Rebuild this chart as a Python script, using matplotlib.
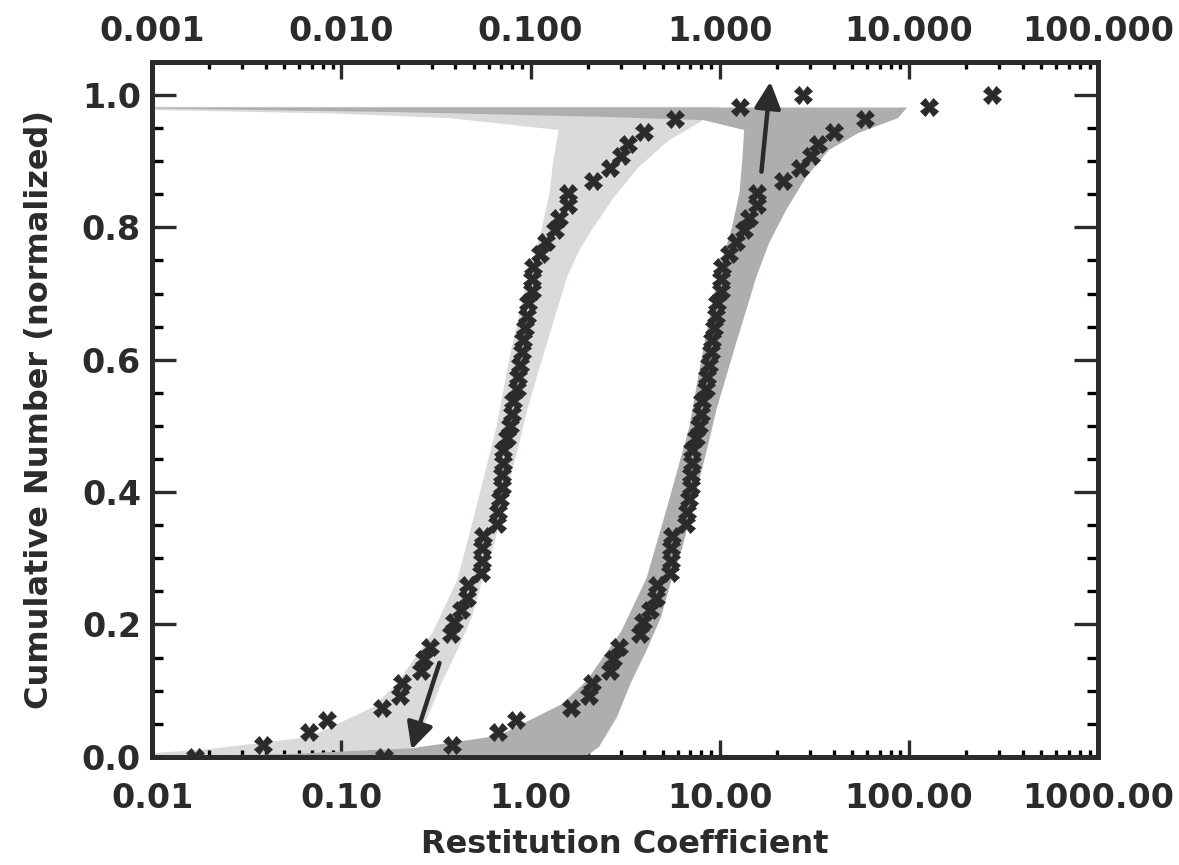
import numpy as np
import matplotlib.pyplot as plt
from matplotlib.ticker import LogLocator, FuncFormatter, NullFormatter, MultipleLocator

INK = "#2b2b2b"
LIGHT = "#d9dbdb"
DARK = "#adafae"

# measured restitution coefficients, sorted (two samples)
coef_a = [0.0169, 0.0386, 0.0674, 0.0839, 0.1636, 0.2036, 0.21, 0.2628, 0.2725, 0.293,
          0.378, 0.3925, 0.427, 0.4595, 0.465, 0.5446, 0.551, 0.553, 0.558, 0.6615,
          0.6696, 0.686, 0.703, 0.706, 0.7115, 0.714, 0.747, 0.775, 0.794, 0.8035,
          0.8436, 0.854, 0.875, 0.896, 0.907, 0.930, 0.953, 0.964, 1.012, 1.02,
          1.025, 1.116, 1.214, 1.339, 1.422, 1.568, 1.58, 2.15, 2.644, 3.022,
          3.29, 3.996, 5.824, 12.83, 27.57]
coef_b = [0.169, 0.386, 0.674, 0.839, 1.636, 2.036, 2.1, 2.628, 2.725, 2.93,
          3.78, 3.925, 4.27, 4.595, 4.65, 5.446, 5.51, 5.53, 5.58, 6.615,
          6.696, 6.86, 7.03, 7.06, 7.115, 7.14, 7.47, 7.75, 7.94, 8.035,
          8.436, 8.54, 8.75, 8.96, 9.07, 9.30, 9.53, 9.64, 10.12, 10.2,
          10.25, 11.16, 12.14, 13.39, 14.22, 15.68, 15.8, 21.5, 26.44, 30.22,
          32.9, 39.96, 58.24, 128.3, 275.7]

# envelope of model distributions (light: sample a, dark: sample b)
light_x = [0.005, 0.019, 0.068, 0.147, 0.198, 0.302, 0.41, 0.52, 0.66, 0.77, 0.92, 1.03,
           1.15, 1.26, 1.32, 1.41,
           0.37, 0.09, 0.005, 0.005, 10.0,
           8.19, 5.3, 3.7, 2.75, 2.15, 1.8, 1.56, 1.38, 1.22, 1.08, 0.96, 0.88, 0.63, 0.551,
           0.489, 0.412, 0.339, 0.286, 0.235, 0.216, 0.005]
light_y = [0.0, 0.011, 0.03, 0.075, 0.112, 0.187, 0.267, 0.38, 0.498, 0.60, 0.70, 0.751,
           0.80, 0.852, 0.902, 0.947,
           0.965, 0.972, 0.979, 0.982, 0.982,
           0.962, 0.93, 0.89, 0.845, 0.80, 0.764, 0.725, 0.675, 0.625, 0.574, 0.524, 0.479, 0.313, 0.263,
           0.211, 0.162, 0.112, 0.06, 0.015, 0.0, 0.0]

dark_x = [0.005, 0.05, 0.235, 0.68, 1.47, 1.98, 3.02, 4.1, 5.3, 6.9, 7.98, 9.35, 10.3,
          11.6, 12.7, 13.15, 13.45,
          8.19, 2.31, 0.2036, 0.005, 0.005, 97.5,
          87.5, 54.5, 37.8, 28.6, 22.4, 18.2, 15.6, 13.8, 12.2, 10.8, 9.59, 8.81, 6.3, 5.5,
          4.89, 4.12, 3.39, 2.86, 2.3, 1.95, 0.005]
dark_y = [0.0, 0.004, 0.013, 0.032, 0.08, 0.115, 0.19, 0.27, 0.38, 0.498, 0.60, 0.70, 0.751,
          0.80, 0.852, 0.902, 0.947,
          0.962, 0.967, 0.974, 0.981, 0.981, 0.981,
          0.965, 0.943, 0.917, 0.876, 0.826, 0.776, 0.725, 0.675, 0.625, 0.574, 0.524, 0.479, 0.313, 0.263,
          0.211, 0.162, 0.112, 0.06, 0.015, 0.0, 0.0]

# arrows (tail, tip)
arrow_down = ((0.33, 0.142), (0.235, 0.011))
arrow_up = ((16.6, 0.884), (18.5, 1.02))

bottom_ticks = [0.01, 0.1, 1, 10, 100, 1000]
top_ticks = [0.001, 0.01, 0.1, 1, 10, 100]
y_ticks = [0.0, 0.2, 0.4, 0.6, 0.8, 1.0]

plt.rcParams["font.family"] = ["DejaVu Sans"]
plt.rcParams["font.weight"] = "bold"

fig = plt.figure(figsize=(11.79, 8.65), dpi=100)
ax = fig.add_axes([0.129, 0.125, 0.8025, 0.8035])

ax.fill(light_x, light_y, color=LIGHT, lw=0, zorder=1)
ax.fill(dark_x, dark_y, color=DARK, lw=0, zorder=2)

cum_a = np.arange(len(coef_a)) / (len(coef_a) - 1)
cum_b = np.arange(len(coef_b)) / (len(coef_b) - 1)
ax.plot(coef_a, cum_a, ls="none", marker="X", ms=12.5, mfc=INK, mec=INK, mew=0.5, zorder=4)
ax.plot(coef_b, cum_b, ls="none", marker="X", ms=12.5, mfc=INK, mec=INK, mew=0.5, zorder=4)

for tail, tip in (arrow_down, arrow_up):
    ax.annotate("", xy=tip, xytext=tail,
                arrowprops=dict(arrowstyle="-|>,head_length=0.8,head_width=0.4", lw=3.2,
                                color=INK, mutation_scale=20, shrinkA=0, shrinkB=0),
                zorder=5)

ax.set_xscale("log")
ax.set_xlim(0.01, 1000)
ax.set_ylim(0, 1.05)

ax.set_xticks(bottom_ticks)
ax.xaxis.set_major_formatter(FuncFormatter(lambda v, p: f"{v:.2f}"))
ax.xaxis.set_minor_locator(LogLocator(base=10, subs=np.arange(2, 10)))
ax.xaxis.set_minor_formatter(NullFormatter())
ax.set_yticks(y_ticks)
ax.yaxis.set_major_formatter(FuncFormatter(lambda v, p: f"{v:.1f}"))
ax.yaxis.set_minor_locator(MultipleLocator(0.05))

ax.tick_params(axis="x", which="major", direction="in", length=12, width=2.4, top=False,
               labelsize=24, pad=18, colors=INK)
ax.tick_params(axis="x", which="minor", direction="in", length=5, width=2.4, top=False)
ax.tick_params(axis="y", which="major", direction="in", length=17, width=2.4, right=True,
               labelsize=24, pad=8, colors=INK)
ax.tick_params(axis="y", which="minor", direction="in", length=8, width=2.4, right=True)

ax2 = ax.twiny()
ax2.set_xscale("log")
ax2.set_xlim(0.001, 100)
ax2.set_xticks(top_ticks)
ax2.xaxis.set_major_formatter(FuncFormatter(lambda v, p: f"{v:.3f}"))
ax2.xaxis.set_minor_locator(LogLocator(base=10, subs=np.arange(2, 10)))
ax2.xaxis.set_minor_formatter(NullFormatter())
ax2.tick_params(axis="x", which="major", direction="in", length=12, width=2.4,
                labelsize=24, pad=10, colors=INK)
ax2.tick_params(axis="x", which="minor", direction="in", length=5, width=2.4)

for a in (ax, ax2):
    for s in a.spines.values():
        s.set_linewidth(3.6)
        s.set_color(INK)

ax.set_xlabel("Restitution Coefficient", fontsize=23, fontweight="bold", color=INK, labelpad=10)
ax.set_ylabel("Cumulative Number (normalized)", fontsize=23, fontweight="bold", color=INK, labelpad=19)

fig.savefig("out.png", dpi=100)
